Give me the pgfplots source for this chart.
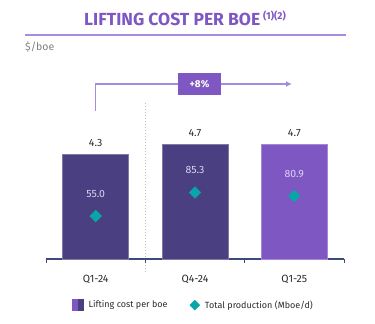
\documentclass[border=0pt]{standalone}
\usepackage{pgfplots}
\pgfplotsset{compat=1.18}
\usetikzlibrary{arrows.meta}
\usepackage{fontspec}
\setmainfont{Fira Sans}
\definecolor{darkbar}{HTML}{4A3F80}
\definecolor{lightbar}{HTML}{7E57C2}
\definecolor{tealc}{HTML}{0AA5A8}
\definecolor{lav}{HTML}{A88BE0}
\definecolor{axc}{HTML}{3D4A7E}
\definecolor{txt}{HTML}{2A2A2A}
\definecolor{inlbl}{HTML}{DCD4F2}
\begin{document}
\begin{tikzpicture}
\path[use as bounding box] (0,0) rectangle (375pt,-324pt);
% title
\node[anchor=base, text=lightbar, font=\fontsize{17.5}{18}\selectfont\bfseries] at (185pt,-25pt)
  {LIFTING COST PER BOE\,\raisebox{0.55ex}{\fontsize{10}{10}\selectfont(1)(2)}};
\draw[lav, line width=1.4pt] (25pt,-35pt) -- (346pt,-35pt);
\node[anchor=west, text=gray, font=\fontsize{10.5}{12}\selectfont, inner sep=0pt] at (25pt,-47pt) {\$/boe};
% growth arrow
\draw[lav, line width=1.3pt, -{Latex[length=6pt,width=6pt]}] (95.5pt,-111pt) -- (95.5pt,-84pt) -- (292pt,-84pt);
\node[fill=lightbar, text=white, font=\fontsize{10}{12}\selectfont\bfseries, minimum width=43pt, minimum height=22pt, inner sep=0pt] at (199.5pt,-84pt) {+8\%};
% dotted separator
\draw[gray!50, line width=1pt, dotted] (145.3pt,-103pt) -- (145.3pt,-273pt);
\begin{axis}[
  at={(46pt,-259pt)}, anchor=south west,
  scale only axis, width=298pt, height=170.8pt,
  xmin=0, xmax=3, ymin=0, ymax=7,
  clip=false,
  axis x line*=bottom, axis y line=none,
  axis line style={axc, line width=1.2pt},
  ybar, bar width=66pt,
  xtick={0.5,1.5,2.5}, xticklabels={Q1-24,Q4-24,Q1-25},
  major tick length=0pt,
  xticklabel style={font=\fontsize{10.5}{12}\selectfont, text=txt, yshift=-13pt},
  extra x ticks={0,1,2,3}, extra x tick labels={},
  extra x tick style={major tick length=4pt, tick align=outside, tick style={axc, line width=1pt}},
  /pgf/number format/assume math mode=true,
  nodes near coords,
  nodes near coords style={font=\fontsize{10.5}{12}\selectfont, text=txt, anchor=south, yshift=4pt},
  /pgf/number format/.cd, fixed, fixed zerofill, precision=1, /pgfplots/.cd,
  legend style={at={(0.495,-0.27)}, anchor=center, draw=none, fill=none,
    font=\fontsize{9}{11}\selectfont, text=txt, legend columns=2,
    /tikz/every odd column/.append style={column sep=3pt},
    /tikz/every even column/.append style={column sep=20pt}},
]
\addplot[fill=darkbar, draw=darkbar!70!white, bar shift=0pt, forget plot] coordinates {(0.5,4.3) (1.5,4.7)};
\addplot[fill=lightbar, draw=lightbar!70!white, bar shift=0pt, forget plot] coordinates {(2.5,4.7)};
\addlegendimage{legend image code/.code={
  \fill[lightbar] (0pt,-5.5pt) rectangle (5.5pt,5.5pt);
  \fill[darkbar] (5.5pt,-5.5pt) rectangle (11pt,5.5pt);}}
\addlegendentry{Lifting cost per boe}
\addlegendimage{legend image code/.code={
  \fill[tealc] (5.5pt,-5pt) -- (10.5pt,0pt) -- (5.5pt,5pt) -- (0.5pt,0pt) -- cycle;}}
\addlegendentry{Total production (Mboe/d)}
\end{axis}
\begin{axis}[
  at={(46pt,-259pt)}, anchor=south west,
  scale only axis, width=298pt, height=170.8pt,
  xmin=0, xmax=3, ymin=0, ymax=219,
  clip=false, hide axis,
  /pgf/number format/assume math mode=true,
  /pgf/number format/.cd, fixed, fixed zerofill, precision=1, /pgfplots/.cd,
]
\addplot[only marks, mark=square*, mark size=4.2pt, mark options={rotate=45, fill=tealc, draw=tealc},
  nodes near coords,
  nodes near coords style={font=\fontsize{10.5}{12}\selectfont, text=inlbl, anchor=center, yshift=22pt}]
  coordinates {(0.5,55.0) (1.5,85.3) (2.5,80.9)};
\end{axis}
\end{tikzpicture}
\end{document}
